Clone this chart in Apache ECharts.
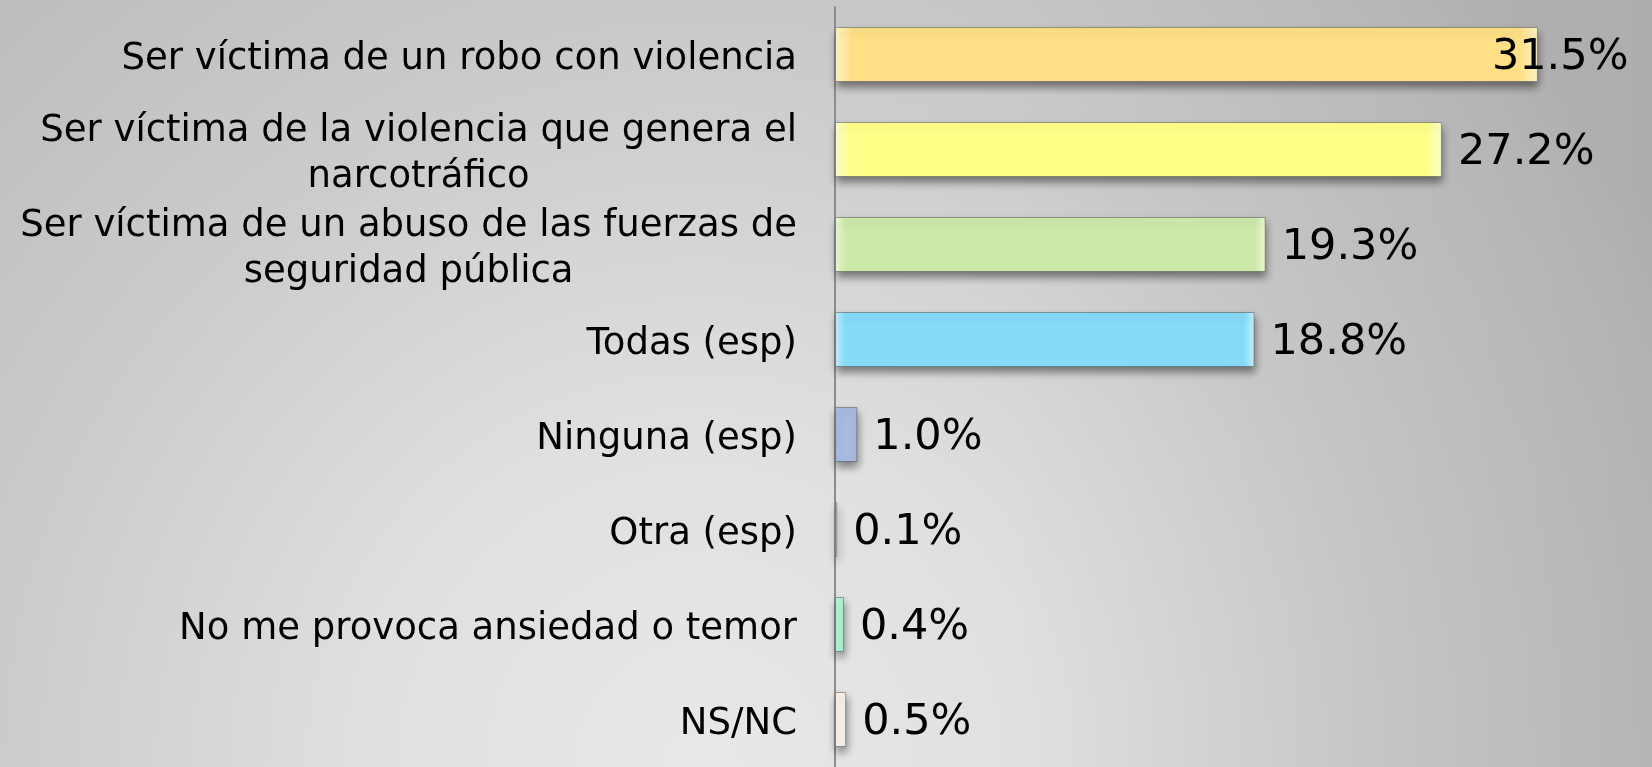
<!DOCTYPE html>
<html>
<head>
<meta charset="utf-8">
<script src="https://cdn.jsdelivr.net/npm/echarts@6/dist/echarts.min.js"></script>
<style>
html,body{margin:0;padding:0;width:1652px;height:767px;overflow:hidden;}
#c{width:1652px;height:767px;}
</style>
</head>
<body>
<div id="c"></div>
<script>
// ---- data ----
const categories = [
  "Ser víctima de un robo con violencia",
  "Ser víctima de la violencia que genera el\nnarcotráfico",
  "Ser víctima de un abuso de las fuerzas de\nseguridad pública",
  "Todas (esp)",
  "Ninguna (esp)",
  "Otra (esp)",
  "No me provoca ansiedad o temor",
  "NS/NC"
];
const values = [31.5, 27.2, 19.3, 18.8, 1.0, 0.1, 0.4, 0.5];

// ---- style ----
const barColors = ["#FFE086", "#FFFF88", "#CDE9AA", "#86DBF9", "#A9BCE0", "#F0CFCF", "#B2F5D6", "#FBF1EB"];
const edgeColors = ["#FFF6C8", "#FFFFD0", "#EEFAD8", "#C8F3FF", "#8496BE", "#FFF0F0", "#E0FFF0", "#FFFFFF"];
const labelFont = "'DejaVu Sans', Verdana, sans-serif";

function grad(i) {
  return {
    type: 'linear', x: 0, y: 0, x2: 1, y2: 0,
    colorStops: [
      {offset: 0, color: edgeColors[i]},
      {offset: 0.025, color: barColors[i]},
      {offset: 0.975, color: barColors[i]},
      {offset: 1, color: edgeColors[i]}
    ]
  };
}

const seriesData = values.map((v, i) => {
  const item = {value: v, itemStyle: {color: grad(i)}};
  if (i === 0) item.label = {offset: [-62, 3]};
  return item;
});

const chart = echarts.init(document.getElementById('c'), null, {renderer: 'canvas'});
chart.setOption({
  backgroundColor: {
    type: 'radial', x: 700, y: 767, r: 1100, global: true,
    colorStops: [
      {offset: 0, color: '#e8e8e8'},
      {offset: 0.3, color: '#e0e0e0'},
      {offset: 0.64, color: '#cbcbcb'},
      {offset: 0.75, color: '#c6c6c6'},
      {offset: 0.94, color: '#bdbdbd'},
      {offset: 1, color: '#b8b8b8'}
    ]
  },
  graphic: [{
    type: 'rect', z: -10, silent: true,
    shape: {x: 0, y: 0, width: 1652, height: 767},
    style: {
      fill: {
        type: 'linear', x: 1000, y: 0, x2: 1652, y2: 0, global: true,
        colorStops: [
          {offset: 0, color: 'rgba(0,0,0,0)'},
          {offset: 1, color: 'rgba(0,0,0,0.06)'}
        ]
      }
    }
  }],
  animation: false,
  grid: {left: 835, top: 7, width: 781, height: 766, containLabel: false},
  xAxis: {
    type: 'value', min: 0, max: 35, show: false,
    splitLine: {show: false}
  },
  yAxis: {
    type: 'category', data: categories, inverse: true,
    axisLine: {show: true, lineStyle: {color: '#8c8c8c', width: 2}},
    axisTick: {show: false},
    axisLabel: {
      margin: 38, color: '#000', fontFamily: labelFont, fontSize: 37,
      lineHeight: 46, align: 'right', padding: [10, 0, 0, 0],
      formatter: function (v) {
        if (v.indexOf('\n') >= 0) {
          return v.split('\n').map(s => '{c|' + s + '}').join('\n');
        }
        return v;
      },
      rich: {c: {align: 'center', fontSize: 37, lineHeight: 46, fontFamily: labelFont, color: '#000'}}
    }
  },
  series: [{
    type: 'bar',
    data: seriesData,
    barWidth: 55,
    itemStyle: {
      borderColor: 'rgba(90,90,90,0.55)', borderWidth: 1,
      shadowColor: 'rgba(0,0,0,0.45)', shadowBlur: 8, shadowOffsetY: 5, shadowOffsetX: 1
    },
    label: {
      show: true, position: 'right', distance: 16, offset: [0, 3],
      color: '#000', fontFamily: labelFont, fontSize: 43,
      formatter: p => p.value.toFixed(1) + '%'
    }
  }]
});
</script>
</body>
</html>
